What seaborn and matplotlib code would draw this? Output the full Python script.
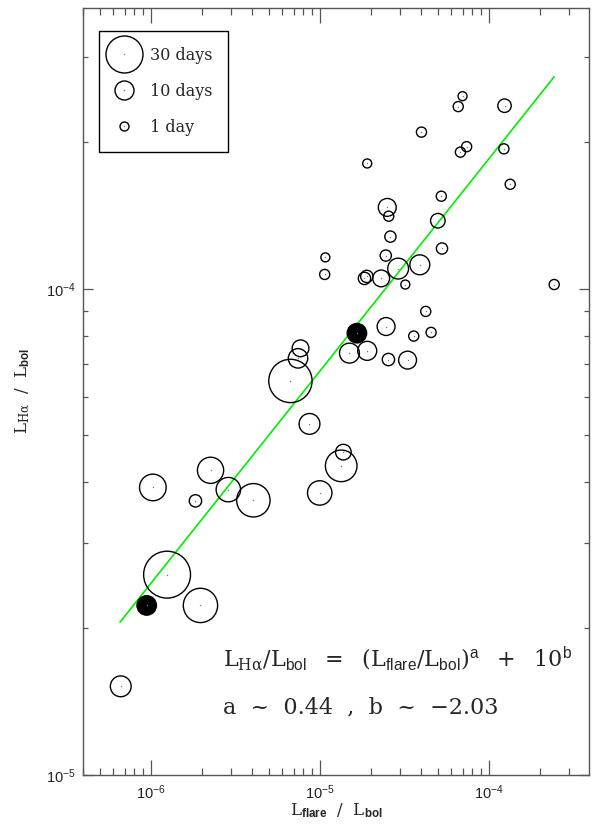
import numpy as np
import pandas as pd
import matplotlib
matplotlib.use("Agg")
import matplotlib.pyplot as plt
from matplotlib.lines import Line2D
from matplotlib.ticker import LogLocator, NullFormatter
import seaborn as sns

# ---------------- data ----------------
flare_open = [7.0e-5, 6.6e-5, 1.24e-4, 4.0e-5, 7.4e-5, 6.8e-5, 1.23e-4, 1.91e-5,
              1.34e-4, 5.24e-5, 2.51e-5, 2.56e-5, 5.0e-5, 2.62e-5, 5.29e-5, 1.08e-5,
              2.46e-5, 3.91e-5, 2.91e-5, 1.07e-5, 1.84e-5, 1.90e-5, 2.31e-5, 3.21e-5,
              2.44e-4, 4.24e-5, 2.47e-5, 3.60e-5, 4.56e-5, 1.50e-5, 1.91e-5, 2.55e-5,
              3.31e-5, 7.70e-6, 7.44e-6, 6.71e-6, 8.70e-6, 1.38e-5, 1.34e-5, 1.0e-5,
              2.26e-6, 1.03e-6, 2.88e-6, 1.84e-6, 4.05e-6, 1.25e-6, 1.97e-6, 6.65e-7]
halpha_open = [2.49e-4, 2.37e-4, 2.38e-4, 2.10e-4, 1.96e-4, 1.91e-4, 1.94e-4, 1.81e-4,
               1.64e-4, 1.55e-4, 1.47e-4, 1.41e-4, 1.38e-4, 1.28e-4, 1.21e-4, 1.16e-4,
               1.17e-4, 1.12e-4, 1.10e-4, 1.07e-4, 1.05e-4, 1.06e-4, 1.05e-4, 1.02e-4,
               1.02e-4, 8.98e-5, 8.36e-5, 7.99e-5, 8.13e-5, 7.37e-5, 7.45e-5, 7.15e-5,
               7.13e-5, 7.54e-5, 7.19e-5, 6.46e-5, 5.27e-5, 4.61e-5, 4.32e-5, 3.80e-5,
               4.23e-5, 3.90e-5, 3.86e-5, 3.66e-5, 3.67e-5, 2.58e-5, 2.23e-5, 1.52e-5]
days_open = [1, 2, 5, 2, 2, 2, 2, 1,
             2, 2, 9, 2, 6, 3, 3, 1,
             3, 11, 12, 2, 4, 4, 8, 1,
             2, 2, 9, 2, 2, 11, 10, 4,
             9, 8, 10.5, 37, 12, 7, 24, 16,
             18, 18.5, 16, 4, 26, 41, 27, 12]

flare_filled = [1.66e-5, 9.47e-7]
halpha_filled = [8.10e-5, 2.23e-5]
days_filled = [10.5, 10.5]

fit_x = [6.58e-7, 2.44e-4]
fit_y = [2.06e-5, 2.73e-4]

legend_days = [30, 10, 1]
legend_labels = ["30 days", "10 days", "1 day"]

formula = (r"$\mathrm{L}_{\mathrm{H\alpha}}/\mathrm{L}_{\mathsf{bol}}\ \ =\ \ "
           r"(\mathrm{L}_{\mathsf{flare}}/\mathrm{L}_{\mathsf{bol}})^{\mathsf{a}}\ \ +\ \ 10^{\mathsf{b}}$")
fit_text = "a  ~  0.44  ,  b  ~  \u22122.03"

# ---------------- style ----------------
DPI = 100
sns.set_style("ticks")
plt.rcParams["font.family"] = ["Liberation Sans", "DejaVu Sans"]
plt.rcParams["mathtext.fontset"] = "custom"
plt.rcParams["mathtext.rm"] = "DejaVu Serif"
plt.rcParams["mathtext.it"] = "DejaVu Serif:italic"
plt.rcParams["mathtext.sf"] = "Liberation Sans"
plt.rcParams["mathtext.bf"] = "Liberation Sans:bold"

def radius_px(d):
    # marker radius in pixels, piecewise linear through the legend sizes
    d = np.asarray(d, dtype=float)
    return np.interp(d, [1, 10, 30], [4.5, 9.5, 18.5]) + np.where(d > 30, (d - 30) * 9 / 20, 0)

def area_pt2(d):
    diam_pt = 2 * radius_px(d) * 72 / DPI
    return diam_pt ** 2

df_open = pd.DataFrame({"flare": flare_open, "halpha": halpha_open, "days": days_open})
df_open["area"] = area_pt2(df_open["days"])
df_fill = pd.DataFrame({"flare": flare_filled, "halpha": halpha_filled, "days": days_filled})
df_fill["area"] = area_pt2(df_fill["days"])
df_all = pd.concat([df_open, df_fill], ignore_index=True)

fig = plt.figure(figsize=(5.92, 8.27), dpi=DPI)
ax = fig.add_axes([82.7 / 592, 1 - 774.7 / 827, (589 - 82.7) / 592, (774.7 - 7.5) / 827])

# fit line
sns.lineplot(x=fit_x, y=fit_y, ax=ax, color="#00ee00", linewidth=1.2, zorder=2)

# open circles
sns.scatterplot(data=df_open, x="flare", y="halpha", size="area",
                sizes={v: v for v in df_open["area"].unique()},
                facecolors="none", edgecolor="black", linewidth=1.0,
                legend=False, ax=ax, zorder=3)
# filled circles
sns.scatterplot(data=df_fill, x="flare", y="halpha", size="area",
                sizes={v: v for v in df_fill["area"].unique()},
                color="black", edgecolor="black", linewidth=1.0,
                legend=False, ax=ax, zorder=4)
# centre dots
sns.scatterplot(data=df_all, x="flare", y="halpha", s=1.0, color="#777777",
                linewidth=0, legend=False, ax=ax, zorder=5)

ax.set_xscale("log")
ax.set_yscale("log")
ax.set_xlim(3.96e-7, 3.92e-4)
ax.set_ylim(1e-5, 3.79e-4)

ax.xaxis.set_major_locator(LogLocator(base=10, numticks=10))
ax.xaxis.set_minor_locator(LogLocator(base=10, subs=np.arange(2, 10), numticks=20))
ax.yaxis.set_minor_locator(LogLocator(base=10, subs=np.arange(2, 10), numticks=20))
ax.xaxis.set_minor_formatter(NullFormatter())
ax.yaxis.set_minor_formatter(NullFormatter())

spine_c = "#555555"
for s in ax.spines.values():
    s.set_visible(True)
    s.set_color(spine_c)
    s.set_linewidth(1.0)
ax.tick_params(axis="x", which="major", direction="in", length=10.5, width=0.9,
               color=spine_c, top=True, bottom=True, labelsize=10.5, pad=6, labelcolor="#222222")
ax.tick_params(axis="x", which="minor", direction="in", length=5, width=0.9,
               color=spine_c, top=True, bottom=True)
ax.tick_params(axis="y", which="major", direction="in", length=7, width=0.9,
               color=spine_c, left=True, right=True, labelsize=10.5, pad=5, labelcolor="#222222")
ax.tick_params(axis="y", which="minor", direction="in", length=3.6, width=0.9,
               color=spine_c, left=True, right=True)

ax.set_xlabel(r"$\mathrm{L}_{\mathbf{flare}}\ \ /\ \ \mathrm{L}_{\mathbf{bol}}$", fontsize=12, labelpad=0)
ax.set_ylabel(r"$\mathrm{L}_{\mathrm{H\alpha}}\ \ /\ \ \mathrm{L}_{\mathbf{bol}}$", fontsize=12, labelpad=10)

# legend
handles = []
for d in legend_days:
    ms = 2 * float(radius_px(d)) * 72 / DPI
    circ = Line2D([], [], marker="o", ls="", markersize=ms, markerfacecolor="none",
                  markeredgecolor="black", markeredgewidth=1.0)
    dot = Line2D([], [], marker="o", ls="", markersize=1.0, markerfacecolor="#777777",
                 markeredgewidth=0)
    handles.append((circ, dot))
leg = ax.legend(handles, legend_labels, loc="upper left",
                bbox_to_anchor=((99.3 - 82.7) / 506.3, 1 - (30.7 - 7.5) / 767.2),
                frameon=True, fancybox=False, edgecolor="black", framealpha=1,
                borderpad=1.0, handlelength=1.1, handletextpad=1.05, labelspacing=1.2,
                borderaxespad=0, prop={"family": "DejaVu Serif", "size": 11.5})
leg.get_frame().set_linewidth(1.0)

# formula annotation
ax.text((223 - 82.7) / 506.3, 1 - (659 - 7.5) / 767.2, formula, transform=ax.transAxes,
        fontsize=16, va="center", ha="left", family="DejaVu Serif")
ax.text((223 - 82.7) / 506.3, 1 - (707 - 7.5) / 767.2, fit_text, transform=ax.transAxes,
        fontsize=16, va="center", ha="left", family="DejaVu Serif")

fig.savefig("out.png", dpi=DPI)
